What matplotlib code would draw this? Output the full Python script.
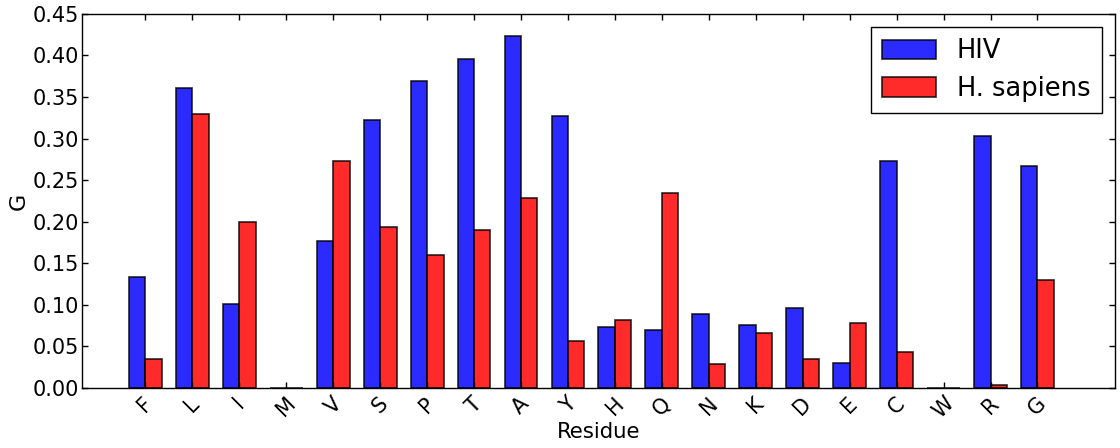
import numpy as np
import matplotlib
matplotlib.use("Agg")
import matplotlib.pyplot as plt

residues = ["F", "L", "I", "M", "V", "S", "P", "T", "A", "Y",
            "H", "Q", "N", "K", "D", "E", "C", "W", "R", "G"]
hiv = [0.1335, 0.3607, 0.1009, 0.0, 0.1769, 0.3225, 0.3692, 0.3957, 0.4231, 0.3273,
       0.0728, 0.0696, 0.0889, 0.0760, 0.0957, 0.0306, 0.2731, 0.0, 0.3028, 0.2670]
human = [0.0354, 0.3294, 0.1999, 0.0, 0.2731, 0.1942, 0.1597, 0.1898, 0.2288, 0.0563,
         0.0812, 0.2348, 0.0294, 0.0660, 0.0354, 0.0776, 0.0438, 0.0, 0.0040, 0.1299]
series_names = ["HIV", "H. sapiens"]

plt.rcParams["font.family"] = ["DejaVu Sans"]

fig = plt.figure(figsize=(11.2, 4.48), dpi=100)
ax = fig.add_axes([0.0732, 0.134, 0.9223, 0.835])

ind = np.arange(len(residues))
width = 0.35
ax.bar(ind, hiv, width, align="edge", color="b", alpha=0.83,
       edgecolor="k", linewidth=1.2, label=series_names[0])
ax.bar(ind + width, human, width, align="edge", color="r", alpha=0.83,
       edgecolor="k", linewidth=1.2, label=series_names[1])

ax.set_xlim(-1, 21)
ax.set_ylim(0, 0.45)
yt = np.arange(0, 0.451, 0.05)
ax.set_yticks(yt)
ax.set_yticklabels([f"{v:.2f}" for v in yt])
ax.set_xticks(ind + width)
ax.set_xticklabels(residues, rotation=45)

ax.tick_params(axis="both", direction="in", top=True, right=True,
               length=4, width=1, labelsize=15)
ax.tick_params(axis="y", pad=2)
ax.tick_params(axis="x", pad=4)
for s in ax.spines.values():
    s.set_linewidth(1)

ax.set_xlabel("Residue", fontsize=15.3, labelpad=0)
ax.set_ylabel("G", fontsize=16, labelpad=3)

leg = ax.legend(loc="upper right", fontsize=18.5, fancybox=False,
                edgecolor="k", framealpha=1, handlelength=2.1,
                handleheight=0.78, borderpad=0.45, labelspacing=0.45)
leg.get_frame().set_linewidth(1)

fig.savefig("out.png", dpi=100, facecolor="white")
